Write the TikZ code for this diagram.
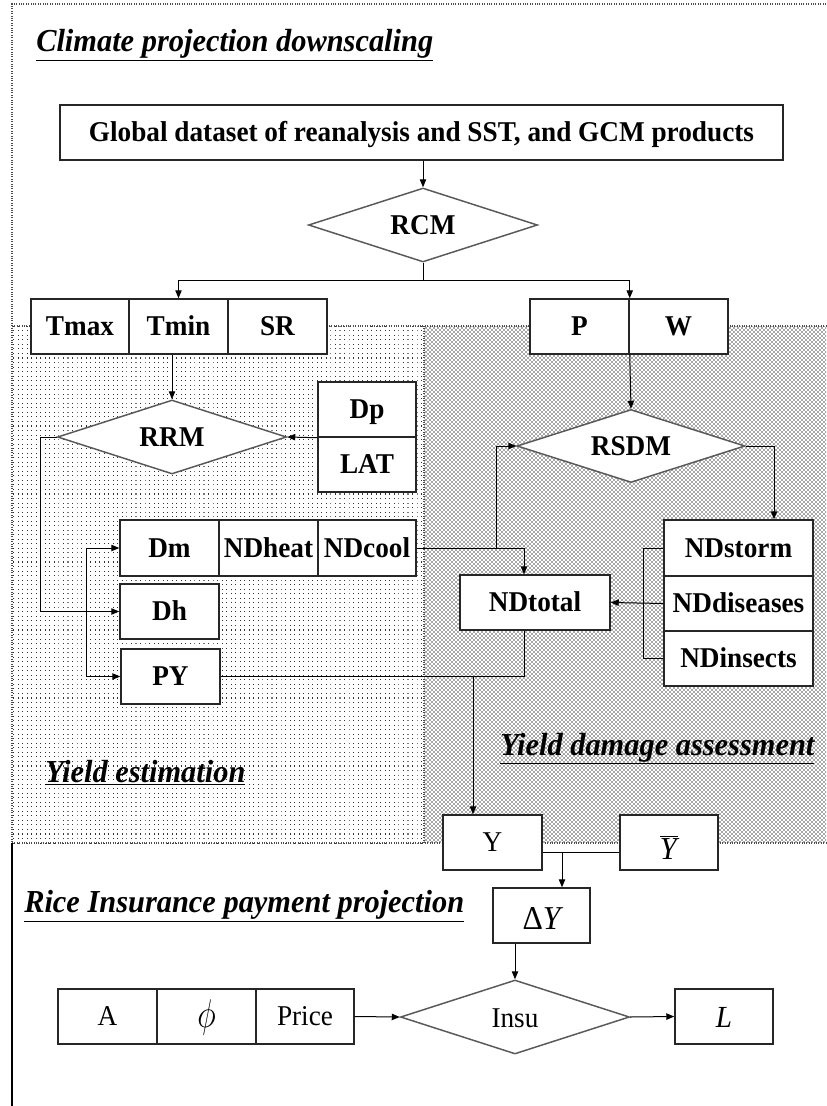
\documentclass[tikz,border=0pt]{standalone}
\usepackage{fontspec}
\setmainfont{Liberation Serif}
\newfontfamily\bxfont[FakeStretch=0.95]{Liberation Serif}
\newfontfamily\ttlfont[FakeStretch=0.95]{Liberation Serif}
\usetikzlibrary{arrows.meta,shapes.geometric,patterns,calc}
\pgfdeclarepatternformonly{ldots}{\pgfqpoint{-0.5pt}{-0.5pt}}{\pgfqpoint{0.5pt}{0.5pt}}{\pgfqpoint{3.4pt}{3.4pt}}{%
  \pgfpathrectangle{\pgfqpoint{-0.4pt}{-0.4pt}}{\pgfqpoint{0.8pt}{0.8pt}}\pgfusepath{fill}}
\pgfdeclarepatternformonly{ddots}{\pgfqpoint{-0.5pt}{-0.5pt}}{\pgfqpoint{2pt}{2pt}}{\pgfqpoint{3pt}{3pt}}{%
  \pgfpathrectangle{\pgfqpoint{-0.4pt}{-0.4pt}}{\pgfqpoint{0.8pt}{0.8pt}}%
  \pgfpathrectangle{\pgfqpoint{1.1pt}{1.1pt}}{\pgfqpoint{0.8pt}{0.8pt}}\pgfusepath{fill}}
\tikzset{
  sz/.style 2 args={minimum width=#1*0.75pt, minimum height=#2*0.75pt},
  box/.style={draw=black!85, line width=1.1pt, fill=white, inner sep=0pt,
    text height=14.2pt, text depth=0pt,
    font=\bxfont\fontsize{21.5}{24}\selectfont\bfseries},
  rbox/.style={box, font=\bxfont\fontsize{21.5}{24}\selectfont},
  dia/.style={diamond, draw=black!65, line width=1.1pt, fill=white, inner sep=0pt,
    text height=14.2pt, text depth=0pt,
    aspect=3.1, font=\bxfont\fontsize{21.5}{24}\selectfont\bfseries},
  conn/.style={line width=0.75pt, black},
  arr/.style={conn, -{Triangle[length=6pt,width=4.8pt]}},
  arrboth/.style={conn, {Triangle[length=6pt,width=4.8pt]}-{Triangle[length=6pt,width=4.8pt]}},
  ttl/.style={font=\ttlfont\fontsize{24}{26}\selectfont\bfseries\itshape, anchor=base west, inner sep=0pt},
  border/.style={densely dotted, line width=0.8pt, black!70}}
\begin{document}
\begin{tikzpicture}[x=0.75pt,y=-0.75pt]
\useasboundingbox (0,0) rectangle (826,1106);
\fill[white] (0,0) rectangle (826,1106);
% regions
\fill[pattern=ldots, pattern color=black!80] (12,326) rectangle (424,843);
\fill[pattern=ddots, pattern color=black!80] (424,326) rectangle (826,843);
\draw[border] (826,4) -- (12,4) -- (12,843);
\draw[border] (12,326) -- (826,326);
\draw[border] (424,326) -- (424,843);
\draw[border] (12,843) -- (826,843);
\draw[line width=1pt, black] (12,843) -- (12,1106);
% titles
\node[ttl] (t1) at (36,52) {\underline{Climate projection downscaling}};
\node[ttl] (t2) at (45,782) {\underline{Yield estimation}};
\node[ttl] (t3) at (500,755) {\underline{Yield damage assessment}};
\node[ttl] (t4) at (24,912) {\underline{Rice Insurance payment projection}};
% nodes
\node[box,sz={723}{55}] (glob) at (421.5,132.5) {Global dataset of reanalysis and SST, and GCM products};
\node[dia,sz={229}{74}] (rcm) at (423,225) {RCM};
\node[box,sz={98}{55}] (tmax) at (80,326.5) {Tmax};
\node[box,sz={99}{55}] (tmin) at (178.5,326.5) {Tmin};
\node[box,sz={99}{55}] (sr) at (277.5,326.5) {SR};
\node[box,sz={99}{55}] (p) at (579.5,326.5) {P};
\node[box,sz={99}{55}] (w) at (678.5,326.5) {W};
\node[dia,sz={229}{74}] (rrm) at (172,437) {RRM};
\node[box,sz={98}{55}] (dp) at (367,409.5) {Dp};
\node[box,sz={98}{55}] (lat) at (367,464.5) {LAT};
\node[box,sz={99}{56}] (dm) at (169.5,548) {Dm};
\node[box,sz={99}{56}] (ndheat) at (268.5,548) {NDheat};
\node[box,sz={98}{56}] (ndcool) at (367,548) {NDcool};
\node[box,sz={99}{55}] (dh) at (169.5,611.5) {Dh};
\node[box,sz={99}{55}] (py) at (170.5,676.5) {PY};
\node[dia,sz={228}{73}] (rsdm) at (631,446) {RSDM};
\node[box,sz={149}{56}] (ndstorm) at (738.5,548) {NDstorm};
\node[box,sz={149}{55}] (nddis) at (738.5,603.5) {NDdiseases};
\node[box,sz={149}{55}] (ndins) at (738.5,658.5) {NDinsects};
\node[box,sz={150}{55}] (ndtotal) at (535,602.5) {NDtotal};
\node[rbox,sz={99}{55}] (y) at (492.5,842.5) {Y};
\node[rbox,sz={98}{55},text height=25pt,font=\bxfont\fontsize{24}{26}\selectfont] (ybar) at (669,842.5) {$\overline{\hbox{\itshape Y\kern1pt}}$};
\node[rbox,sz={97}{55},text height=21pt,font=\bxfont\fontsize{25}{27}\selectfont] (dy) at (541.5,915.5) {Δ\itshape Y};
\node[dia,sz={229}{74},text height=16pt,font=\bxfont\fontsize{21.5}{24}\selectfont] (insu) at (515,1017) {Insu};
\node[rbox,sz={99}{55}] (a) at (107.5,1016.5) {A};
\node[rbox,sz={99}{55}] (phi) at (206.5,1016.5) {\raisebox{-1pt}{\scalebox{1.15}[1.45]{$\phi$}}};
\node[rbox,sz={98}{55}] (price) at (305,1016.5) {Price};
\node[rbox,sz={98}{55},text height=16pt,font=\bxfont\fontsize{23}{25}\selectfont] (l) at (724,1016.5) {\itshape L};
% connectors
\coordinate (split) at (423,280);
\draw[arr] (rcm.north |- glob.south) -- (rcm.north);
\draw[conn] (rcm.south) -- (split);
\draw[arr] (split) -| (tmin.north);
\draw[arr] (split) -| (p.north east);
\draw[arr] (rrm.north |- tmin.south) -- (rrm.north);
\draw[arr] (dp.south west) -- (rrm.east);
\coordinate (rl) at (40,437);
\draw[arr] (rrm.west) -- (rl) |- (dh.west);
\coordinate (bl) at (86,548);
\draw[arrboth] (dm.west) -- (bl) |- (py.west);
\coordinate (j1) at (524,548);
\coordinate (j2) at (496,548);
\draw[arr] (ndcool.east) -- (j1) -- (j1 |- ndtotal.north);
\draw[arr] (j2) |- (rsdm.west);
\draw[arr] (p.south east) -- (rsdm.north);
\coordinate (r1) at (774,446);
\draw[arr] (rsdm.east) -- (r1) -- (r1 |- ndstorm.north);
\coordinate (k) at (643,548);
\draw[conn] (ndstorm.west) -- (k) |- (ndins.west);
\draw[arr] (nddis.west) -- (ndtotal.east);
\coordinate (j3) at (524,676.5);
\draw[conn] (py.east) -- (j3) -- (j3 |- ndtotal.south);
\coordinate (j4) at (473,676.5);
\draw[arr] (j4) -- (j4 |- y.north);
\coordinate (j5) at (562,852);
\draw[conn] (y.east |- j5) -- (ybar.west |- j5);
\draw[arr] (j5) -- (j5 |- dy.north);
\draw[arr] (insu.north |- dy.south) -- (insu.north);
\draw[arr] (price.east) -- (insu.west);
\draw[arr] (insu.east) -- (l.west);
\end{tikzpicture}
\end{document}
